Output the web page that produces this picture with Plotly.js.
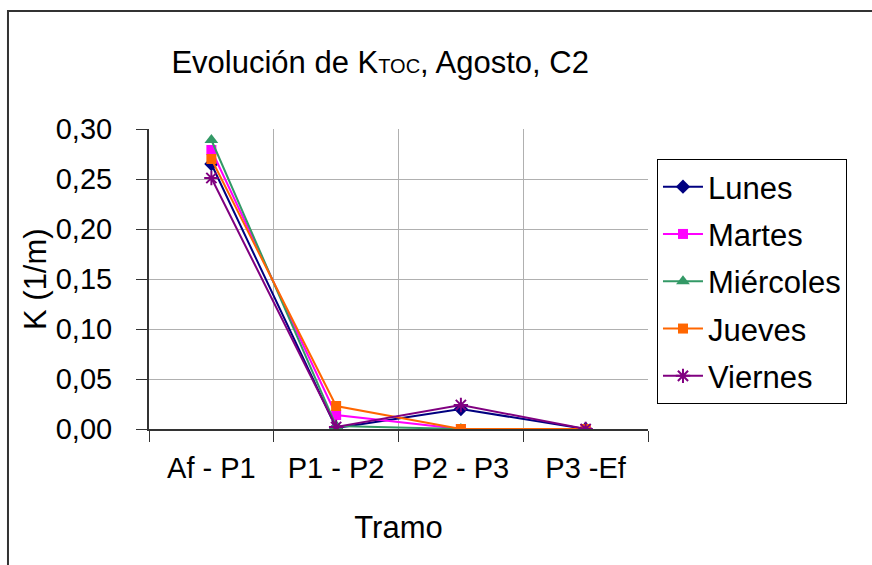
<!DOCTYPE html>
<html>
<head>
<meta charset="utf-8">
<script src="https://cdn.plot.ly/plotly-3.0.1.min.js"></script>
<style>html,body{margin:0;padding:0;background:#fff;}#chart{width:872px;height:565px;}</style>
</head>
<body>
<div id="chart"></div>
<script>
var tramos = ["Af - P1", "P1 - P2", "P2 - P3", "P3 -Ef"];
var lunes     = [0.265, 0.001, 0.020, 0.000];
var martes    = [0.279, 0.014, 0.000, 0.000];
var miercoles = [0.289, 0.003, 0.000, 0.000];
var jueves    = [0.270, 0.023, 0.000, 0.000];
var viernes   = [0.251, 0.002, 0.024, 0.000];
var seriesNames = ["Lunes", "Martes", "Miércoles", "Jueves", "Viernes"];
var seriesValues = [lunes, martes, miercoles, jueves, viernes];
var colors = ["#000080", "#FF00FF", "#339966", "#FF6600", "#800080"];
var symbols = ["diamond", "square", "triangle-up", "square", "asterisk-open"];
var sizes = [11, 10, 12, 10, 12];

var traces = seriesNames.map(function(n, i){
  return {
    x: tramos, y: seriesValues[i], name: n, type: "scatter", mode: "lines+markers",
    legendgroup: "g" + i,
    line: {color: colors[i], width: 2},
    marker: {symbol: symbols[i], size: sizes[i], color: colors[i],
             line: {color: colors[i], width: i === 4 ? 2 : 0}}
  };
});

var font = "Liberation Sans, Arial, sans-serif";
var layout = {
  width: 872, height: 565,
  margin: {l: 149, r: 224, t: 129, b: 136},
  paper_bgcolor: "#fff", plot_bgcolor: "#fff",
  separators: ",.",
  font: {family: font, size: 29, color: "#000"},
  showlegend: true,
  title: {text: "Evolución de K<span style='font-size:20px'>TOC</span>, Agosto, C2",
          font: {family: font, size: 31, color: "#000"},
          xref: "container", x: 0.436, xanchor: "center",
          yref: "container", y: 0.89, yanchor: "middle"},
  xaxis: {
    type: "category", tickson: "boundaries", range: [-0.5, 3.5],
    showgrid: true, gridcolor: "#b0b0b0", gridwidth: 1,
    ticks: "outside", ticklen: 11, tickwidth: 1, tickcolor: "#333",
    showline: true, linecolor: "#333", linewidth: 2,
    tickfont: {family: font, size: 29}, ticklabelstandoff: 12,
    title: {text: "Tramo", font: {family: font, size: 31}, standoff: 34}
  },
  yaxis: {
    range: [0, 0.30], dtick: 0.05, tickformat: ".2f",
    showgrid: true, gridcolor: "#b0b0b0", gridwidth: 1,
    zeroline: false,
    ticks: "outside", ticklen: 11, tickwidth: 1, tickcolor: "#333",
    showline: true, linecolor: "#333", linewidth: 2,
    tickfont: {family: font, size: 29}, ticklabelstandoff: 18
  },
  annotations: [{text: "K (1/m)", xref: "paper", yref: "paper",
                 x: -0.2285, y: 0.5, xanchor: "center", yanchor: "middle",
                 textangle: -90, showarrow: false,
                 font: {family: font, size: 31, color: "#000"}}],
  legend: {
    x: 1.018, xanchor: "left", y: 0.9, yanchor: "top",
    bordercolor: "#000", borderwidth: 1, bgcolor: "#fff",
    font: {family: font, size: 31, color: "#000"},
    traceorder: "grouped", tracegroupgap: 4, itemwidth: 40
  },
  shapes: [{type: "rect", xref: "paper", yref: "paper",
            x0: -0.2826, x1: 2, y0: -1, y1: 1.3933,
            line: {color: "#333", width: 2}, layer: "below"}]
};
Plotly.newPlot("chart", traces, layout, {displayModeBar: false, staticPlot: true});
</script>
</body>
</html>
